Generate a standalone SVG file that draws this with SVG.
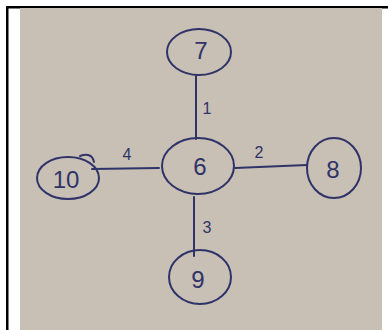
<svg xmlns="http://www.w3.org/2000/svg" width="388" height="330" viewBox="0 0 388 330">
<style>
.ink{fill:none;stroke:#2f3368;stroke-width:2;stroke-linecap:round}
.num{font-family:"Liberation Sans",Arial,sans-serif;fill:#2f3368;text-anchor:middle;dominant-baseline:central}
.big{font-size:24px}
.lbl{font-size:16px}
</style>
<rect x="0" y="0" width="388" height="330" fill="#ffffff"/>
<rect x="6" y="6" width="382" height="2.5" fill="#000000"/>
<rect x="6" y="6" width="2.5" height="324" fill="#000000"/>
<rect x="20" y="8" width="362" height="322" fill="#c8c0b5"/>
<g id="connectors">
<path class="ink" d="M196 76 L196 139"/>
<text class="num lbl" x="207" y="108">1</text>
<path class="ink" d="M235 168 L307 165"/>
<text class="num lbl" x="259" y="152">2</text>
<path class="ink" d="M194 197 L194 256"/>
<text class="num lbl" x="207" y="227">3</text>
<path class="ink" d="M92 169 L159 168"/>
<text class="num lbl" x="127" y="154">4</text>
</g>
<g id="node6">
<ellipse class="ink" cx="198" cy="166" rx="36" ry="28"/>
<text class="num big" x="200" y="166">6</text>
</g>
<g id="node7">
<ellipse class="ink" cx="199" cy="52" rx="32" ry="23"/>
<text class="num big" x="201" y="50">7</text>
</g>
<g id="node8">
<ellipse class="ink" cx="334" cy="168" rx="27" ry="30"/>
<text class="num big" x="333" y="169">8</text>
</g>
<g id="node9">
<ellipse class="ink" cx="200" cy="277" rx="31" ry="27"/>
<text class="num big" x="198" y="279">9</text>
</g>
<g id="node10">
<ellipse class="ink" cx="68" cy="178" rx="31" ry="21"/>
<path class="ink" d="M80 156 Q92 152 94 162"/>
<text class="num big" x="66" y="179">10</text>
</g>
</svg>
